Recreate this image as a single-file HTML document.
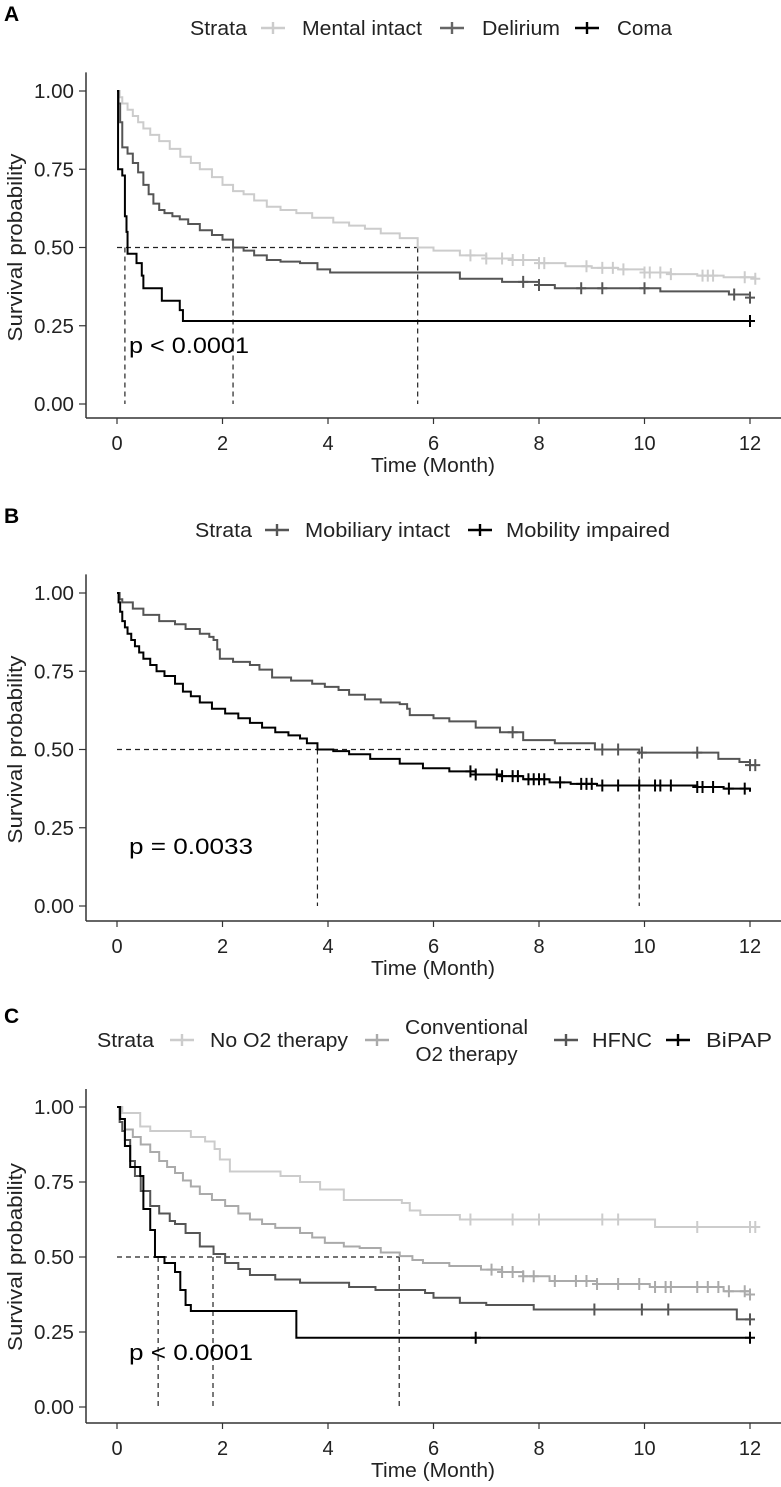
<!DOCTYPE html>
<html><head><meta charset="utf-8">
<style>
html,body{margin:0;padding:0;background:#fff;}
svg{display:block;font-family:"Liberation Sans",Arial,sans-serif;}
</style></head>
<body>
<svg id="fig" width="781" height="1487" viewBox="0 0 781 1487" xmlns="http://www.w3.org/2000/svg"></svg>
<script>
// ---------- DATA ----------
const xTicks = [0, 2, 4, 6, 8, 10, 12];
const yTicks = [0, 0.25, 0.5, 0.75, 1];
const yTickLabels = ["0.00", "0.25", "0.50", "0.75", "1.00"];

// Panel A
const aMentalT = [0,0.05,0.1,0.2,0.3,0.4,0.5,0.63,0.8,1.0,1.2,1.4,1.57,1.8,2.0,2.2,2.4,2.6,2.84,3.1,3.4,3.7,4.1,4.4,4.7,5.0,5.36,5.7,6.0,6.5,7.0,7.5,8.0,8.5,9.0,9.5,10.0,10.5,11.0,11.5,12.1];
const aMentalS = [1,0.98,0.96,0.94,0.92,0.90,0.88,0.86,0.84,0.815,0.79,0.77,0.75,0.725,0.70,0.68,0.67,0.65,0.63,0.62,0.61,0.595,0.58,0.57,0.56,0.545,0.53,0.50,0.49,0.475,0.465,0.46,0.45,0.44,0.435,0.43,0.42,0.415,0.41,0.405,0.40];
const aMentalC = [6.7,7,7.3,7.5,7.7,8,8.1,8.9,9.2,9.4,9.6,10,10.1,10.3,10.5,11.1,11.2,11.3,11.9,12.1];
const aDelT = [0,0.03,0.06,0.1,0.2,0.3,0.4,0.5,0.6,0.69,0.8,0.9,1.05,1.19,1.35,1.57,1.8,2.0,2.2,2.4,2.6,2.84,3.1,3.47,3.8,4.04,6.1,6.5,7.3,8.0,8.3,10.3,11.6,12];
const aDelS = [1,0.96,0.9,0.82,0.80,0.77,0.74,0.70,0.67,0.64,0.62,0.61,0.60,0.59,0.575,0.555,0.54,0.525,0.50,0.49,0.475,0.46,0.455,0.45,0.43,0.42,0.42,0.40,0.39,0.38,0.37,0.36,0.35,0.34];
const aDelC = [7.7,8,8.8,9.2,10,11.7,12];
const aComaT = [0,0.02,0.1,0.15,0.18,0.2,0.37,0.47,0.5,0.85,1.19,1.25,12];
const aComaS = [1,0.75,0.73,0.6,0.55,0.48,0.45,0.41,0.37,0.33,0.30,0.265,0.265];
const aComaC = [12];

// Panel B
const bIntT = [0,0.05,0.1,0.3,0.5,0.8,1.1,1.3,1.57,1.75,1.83,1.9,1.95,2.2,2.52,2.7,2.94,3.3,3.7,3.94,4.2,4.4,4.7,5.0,5.36,5.5,5.55,6.0,6.3,6.8,7.26,7.7,8.3,9.06,9.9,10.5,11.4,11.8,12];
const bIntS = [1,0.98,0.97,0.95,0.93,0.91,0.90,0.885,0.87,0.86,0.85,0.82,0.79,0.78,0.77,0.755,0.73,0.72,0.71,0.70,0.69,0.675,0.66,0.65,0.645,0.63,0.61,0.60,0.59,0.57,0.555,0.53,0.52,0.50,0.49,0.49,0.47,0.46,0.45];
const bIntC = [7.5,9.2,9.5,9.95,11,12,12.1];
const bImpT = [0,0.03,0.06,0.1,0.15,0.2,0.27,0.34,0.42,0.5,0.63,0.75,0.9,1.1,1.25,1.4,1.57,1.8,2.05,2.3,2.52,2.75,3.0,3.25,3.47,3.6,3.8,4.1,4.4,4.8,5.36,5.8,6.3,6.8,7.26,7.7,8.2,8.6,9.1,10,11,11.5,12];
const bImpS = [1,0.97,0.94,0.91,0.89,0.87,0.85,0.83,0.81,0.79,0.77,0.75,0.735,0.71,0.685,0.67,0.65,0.63,0.615,0.60,0.585,0.57,0.555,0.545,0.535,0.52,0.50,0.495,0.485,0.47,0.455,0.44,0.43,0.42,0.415,0.405,0.395,0.39,0.385,0.385,0.38,0.375,0.365];
const bImpC = [6.7,6.8,7.2,7.3,7.5,7.6,7.8,7.9,8.0,8.1,8.4,8.8,8.9,9.0,9.2,9.5,9.9,10.2,10.3,10.5,11.0,11.1,11.3,11.6,11.9];

// Panel C
const cNoT = [0,0.1,0.44,0.63,1.4,1.67,1.85,1.95,2.14,3.1,3.47,3.85,4.3,5.4,5.55,5.75,6.5,10.2,12.1];
const cNoS = [1,0.98,0.935,0.92,0.90,0.885,0.86,0.825,0.785,0.77,0.75,0.725,0.69,0.68,0.655,0.64,0.625,0.60,0.60];
const cNoC = [6.7,7.5,8.0,9.2,9.5,11.0,12.0,12.1];
const cConvT = [0,0.05,0.15,0.3,0.45,0.63,0.8,0.95,1.1,1.25,1.4,1.57,1.8,2.05,2.3,2.52,2.75,3.0,3.47,3.7,3.94,4.3,4.6,5.0,5.36,5.6,5.8,6.3,6.9,7.3,7.7,8.2,9.1,10.1,11.5,12];
const cConvS = [1,0.96,0.925,0.90,0.875,0.85,0.82,0.80,0.78,0.755,0.735,0.71,0.69,0.67,0.645,0.625,0.61,0.597,0.58,0.565,0.547,0.535,0.53,0.515,0.503,0.49,0.48,0.47,0.458,0.45,0.436,0.42,0.41,0.40,0.386,0.375];
const cConvC = [7.1,7.3,7.5,7.7,7.9,8.3,8.7,8.9,9.1,9.5,9.9,10.2,10.4,10.5,11.0,11.2,11.4,11.6,11.9,12];
const cHfT = [0,0.05,0.1,0.15,0.25,0.34,0.45,0.63,0.8,1.0,1.1,1.3,1.57,1.83,2.05,2.3,2.52,3.0,3.47,4.4,4.9,5.84,6.0,6.5,7.0,7.9,11.75,12];
const cHfS = [1,0.95,0.92,0.89,0.82,0.77,0.72,0.67,0.645,0.62,0.61,0.58,0.535,0.51,0.48,0.46,0.44,0.425,0.414,0.40,0.39,0.38,0.364,0.347,0.34,0.325,0.292,0.292];
const cHfC = [9.05,9.95,10.45,12];
const cBiT = [0,0.06,0.15,0.25,0.44,0.5,0.63,0.72,0.9,1.1,1.2,1.3,1.4,3.4,12];
const cBiS = [1,0.96,0.87,0.80,0.77,0.66,0.59,0.50,0.48,0.45,0.39,0.34,0.32,0.231,0.231];
const cBiC = [6.8,12];

// ---------- DRAW ----------
const NS = "http://www.w3.org/2000/svg";
const svg = document.getElementById('fig');
function el(tag, attrs, parent, text){
  const e = document.createElementNS(NS, tag);
  for (const k in attrs) e.setAttribute(k, attrs[k]);
  if (text !== undefined) e.textContent = text;
  (parent || svg).appendChild(e);
  return e;
}
function survAt(T, S, t){ let s = S[0]; for (let i=0;i<T.length;i++){ if (T[i] <= t) s = S[i]; } return s; }

function panel(cfg){
  const g = el('g', {});
  
  
  const x = t => 117 + t * 52.75;
  const y = s => cfg.y0 - s * cfg.span;
  const lt = el('text', {x:4, y:cfg.letterY, 'font-size':21, 'font-weight':'bold', fill:'#000'}, g, cfg.letter);
  
  
  const ax = el('line', {x1:86, y1:cfg.axisY, x2:781, y2:cfg.axisY, stroke:'#333', 'stroke-width':1.5}, g);
  
  
  const ay = el('line', {x1:86, y1:cfg.y0 - cfg.span*1.05 - 3, x2:86, y2:cfg.axisY, stroke:'#333', 'stroke-width':1.5}, g);
  
  
  xTicks.forEach(t => {
    el('line', {x1:x(t), y1:cfg.axisY, x2:x(t), y2:cfg.axisY+6, stroke:'#333', 'stroke-width':1.2}, g);
    const tl = el('text', {x:x(t), y:cfg.axisY+32, 'font-size':20, 'text-anchor':'middle', fill:'#222'}, g, String(t));
    
    
  });
  yTicks.forEach((s, i) => {
    el('line', {x1:79, y1:y(s), x2:86, y2:y(s), stroke:'#333', 'stroke-width':1.2}, g);
    const tl = el('text', {x:74, y:y(s)+7, 'font-size':20, 'text-anchor':'end', fill:'#222', textLength:40, lengthAdjust:'spacingAndGlyphs'}, g, yTickLabels[i]);
    
    
  });
  const xt = el('text', {x:433, y:cfg.axisY+54, 'font-size':20, 'text-anchor':'middle', fill:'#222', textLength:124, lengthAdjust:'spacingAndGlyphs'}, g, 'Time (Month)');
  
  
  const yc = y(0.5);
  const yt = el('text', {x:0, y:0, 'font-size':20, 'text-anchor':'middle', fill:'#222', textLength:188, lengthAdjust:'spacingAndGlyphs', transform:`translate(22,${yc}) rotate(-90)`}, g, 'Survival probability');
  
  
  const hl = el('line', {x1:x(0), y1:y(0.5), x2:x(cfg.hEnd), y2:y(0.5), stroke:'#222', 'stroke-width':1.2, 'stroke-dasharray':'5,4'}, g);
  
  
  cfg.medians.forEach(m => {
    const vl = el('line', {x1:x(m), y1:y(0.5), x2:x(m), y2:y(0), stroke:'#222', 'stroke-width':1.2, 'stroke-dasharray':'5,4'}, g);
    
    
  });
  cfg.series.forEach(sr => {
    let d = `M${x(sr.T[0])},${y(sr.S[0])}`;
    for (let i=1;i<sr.T.length;i++){ d += ` H${x(sr.T[i])} V${y(sr.S[i])}`; }
    const p = el('path', {d, fill:'none', stroke:sr.color, 'stroke-width':2}, g);
    
    
    sr.C.forEach(c => {
      const cx = x(c), cy = y(survAt(sr.T, sr.S, c));
      const m = el('path', {d:`M${cx-5},${cy} H${cx+5} M${cx},${cy-6} V${cy+6}`, stroke:sr.color, 'stroke-width':2}, g);
      
      
    });
  });
  const pv = el('text', {x:129, y:cfg.pY, 'font-size':22, fill:'#000', textLength:cfg.pLen, lengthAdjust:'spacingAndGlyphs'}, g, cfg.pText);
  
  
  const lg = el('g', {}, g);
  
  
  const st = el('text', {x:cfg.legend.strataX, y:cfg.legendY+7, 'font-size':20, fill:'#222', textLength:57, lengthAdjust:'spacingAndGlyphs'}, lg, 'Strata');
  
  
  cfg.legend.items.forEach(it => {
    const k = el('path', {d:`M${it.kx},${cfg.legendY} H${it.kx+24} M${it.kx+12},${cfg.legendY-6} V${cfg.legendY+6}`, stroke:it.color, 'stroke-width':2.4}, lg);
    
    
    if (Array.isArray(it.label)){
      const cx = it.tx + it.w/2;
      const t1 = el('text', {x:cx, y:cfg.legendY-6, 'font-size':20, 'text-anchor':'middle', fill:'#222', textLength:it.w, lengthAdjust:'spacingAndGlyphs'}, lg, it.label[0]);
      
      
      const t2 = el('text', {x:cx, y:cfg.legendY+21, 'font-size':20, 'text-anchor':'middle', fill:'#222', textLength:it.w*0.83, lengthAdjust:'spacingAndGlyphs'}, lg, it.label[1]);
      
      
    } else {
      const t = el('text', {x:it.tx, y:cfg.legendY+7, 'font-size':20, fill:'#222', textLength:it.w, lengthAdjust:'spacingAndGlyphs'}, lg, it.label);
      
      
    }
  });
}

panel({name:'panel-a-mental-status', letter:'A', letterY:21, y0:404, span:313, axisY:418,
  hEnd:5.7, medians:[0.15,2.2,5.7], pY:353, pLen:120, pText:'p < 0.0001', legendY:28,
  legend:{strataX:190, items:[
    {kx:261, tx:302, w:120, color:'#cccccc', label:'Mental intact'},
    {kx:440, tx:482, w:78, color:'#666666', label:'Delirium'},
    {kx:575, tx:617, w:55, color:'#000000', label:'Coma'}]},
  series:[
    {name:'mental-intact', T:aMentalT, S:aMentalS, C:aMentalC, color:'#cccccc'},
    {name:'delirium', T:aDelT, S:aDelS, C:aDelC, color:'#555555'},
    {name:'coma', T:aComaT, S:aComaS, C:aComaC, color:'#000000'}]});

panel({name:'panel-b-mobility', letter:'B', letterY:523, y0:906, span:313, axisY:921,
  hEnd:9.9, medians:[3.8,9.9], pY:854, pLen:124, pText:'p = 0.0033', legendY:530,
  legend:{strataX:195, items:[
    {kx:265, tx:305, w:145, color:'#555555', label:'Mobiliary intact'},
    {kx:468, tx:506, w:164, color:'#000000', label:'Mobility impaired'}]},
  series:[
    {name:'mobiliary-intact', T:bIntT, S:bIntS, C:bIntC, color:'#555555'},
    {name:'mobility-impaired', T:bImpT, S:bImpS, C:bImpC, color:'#000000'}]});

panel({name:'panel-c-oxygen-therapy', letter:'C', letterY:1023, y0:1407, span:300, axisY:1423,
  hEnd:5.35, medians:[0.78,1.82,5.35], pY:1360, pLen:124, pText:'p < 0.0001', legendY:1040,
  legend:{strataX:97, items:[
    {kx:170, tx:210, w:138, color:'#cccccc', label:'No O2 therapy'},
    {kx:365, tx:405, w:123, color:'#aaaaaa', label:['Conventional','O2 therapy']},
    {kx:554, tx:592, w:60, color:'#555555', label:'HFNC'},
    {kx:666, tx:706, w:66, color:'#000000', label:'BiPAP'}]},
  series:[
    {name:'no-o2-therapy', T:cNoT, S:cNoS, C:cNoC, color:'#cccccc'},
    {name:'conventional-o2', T:cConvT, S:cConvS, C:cConvC, color:'#aaaaaa'},
    {name:'hfnc', T:cHfT, S:cHfS, C:cHfC, color:'#555555'},
    {name:'bipap', T:cBiT, S:cBiS, C:cBiC, color:'#000000'}]});
</script>
</body></html>
